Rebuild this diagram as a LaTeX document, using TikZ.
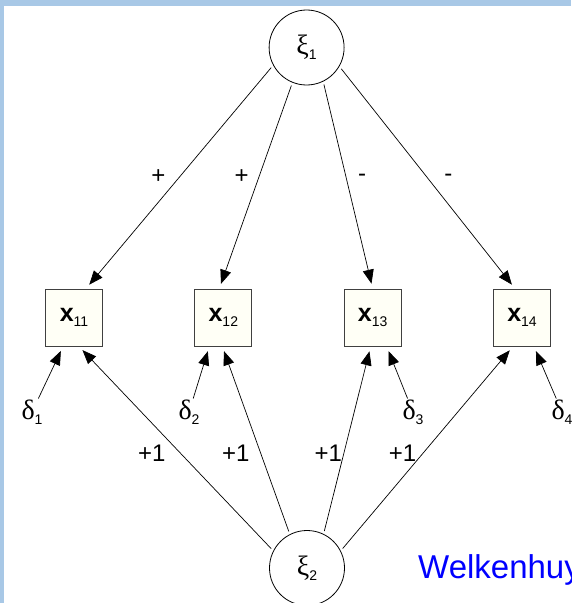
\documentclass[tikz,border=0pt]{standalone}
\usepackage{fontspec}
\setmainfont{Liberation Sans}
\newfontfamily\greekfont{Liberation Serif}
\usetikzlibrary{arrows.meta,positioning}

\definecolor{slideblue}{RGB}{168,200,230}
\definecolor{boxfill}{RGB}{255,255,246}
\definecolor{linkblue}{RGB}{0,0,255}

\newcommand{\lowix}[1]{\raisebox{-5pt}{\fontsize{14}{14}\selectfont #1}}

\tikzset{
  latent/.style={circle,draw,fill=white,line width=0.8pt,minimum size=75pt,inner sep=0pt,font=\fontsize{28}{28}\selectfont},
  item/.style={rectangle,draw=black!75,fill=boxfill,line width=0.9pt,minimum size=57pt,inner sep=0pt,font=\fontsize{25}{25}\selectfont},
  errlbl/.style={inner sep=1pt,font=\fontsize{28}{28}\selectfont},
  sign/.style={inner sep=0pt,font=\fontsize{24}{24}\selectfont},
  load/.style={-{Triangle[length=14pt,width=11pt]},line width=0.7pt,shorten >=5pt,shorten <=3pt},
}

\begin{document}
\begin{tikzpicture}[x=1pt,y=-1pt,node distance=149.33pt,on grid]
  \useasboundingbox (0,0) rectangle (571,603);
  \fill[slideblue] (0,0) rectangle (571,6);
  \fill[slideblue] (0,0) rectangle (4,603);

  \node[latent] (xi1) at (306.6,47.5) {{\greekfont ξ}\lowix{1}};
  \node[latent] (xi2) at (307,568) {{\greekfont ξ}\lowix{2}};

  \node[item] (x11) at (74,317.5) {\textbf{x}\lowix{11}};
  \node[item] (x12) [right=of x11] {\textbf{x}\lowix{12}};
  \node[item] (x13) [right=of x12] {\textbf{x}\lowix{13}};
  \node[item] (x14) [right=of x13] {\textbf{x}\lowix{14}};

  \node[errlbl] (d1) at (32,412) {{\greekfont δ}\lowix{1}};
  \node[errlbl] (d2) at (189,412) {{\greekfont δ}\lowix{2}};
  \node[errlbl] (d3) at (413,412) {{\greekfont δ}\lowix{3}};
  \node[errlbl] (d4) at (562,412) {{\greekfont δ}\lowix{4}};

  \node[sign] (s1) at (158.3,176.7) {+};
  \node[sign] (s2) at (241.7,176.7) {+};
  \node[sign] (s3) at (362,177.5) {-};
  \node[sign] (s4) at (448.3,177.5) {-};

  \node[sign] (o1) at (151.7,453.3) {+1};
  \node[sign] (o2) at (235.8,453.3) {+1};
  \node[sign] (o3) at (328.3,453.3) {+1};
  \node[sign] (o4) at (402.5,453.3) {+1};

  \node[anchor=base west,inner sep=0pt,text=linkblue,font=\fontsize{33}{33}\selectfont] (cite) at (418,578) {Welkenhuy};

  \path[load]
    (xi1.208) edge ([xshift=12pt]x11.north)
    (xi1.248) edge ([xshift=-4pt]x12.north)
    (xi1.296) edge (x13.north)
    (xi1.330) edge ([xshift=-7pt]x14.north)
    (xi2.153) edge ([xshift=5pt]x11.south)
    (xi2.117) edge ([xshift=-1pt]x12.south)
    (xi2.64) edge ([xshift=-2pt]x13.south)
    (xi2.27) edge ([xshift=-9pt]x14.south)
    ;
  \path[load,shorten <=0pt]
    (d1) edge ([xshift=-11pt]x11.south)
    (d2) edge ([xshift=-14pt]x12.south)
    (d3) edge ([xshift=14pt]x13.south)
    (d4) edge ([xshift=12pt]x14.south)
    ;
\end{tikzpicture}
\end{document}
